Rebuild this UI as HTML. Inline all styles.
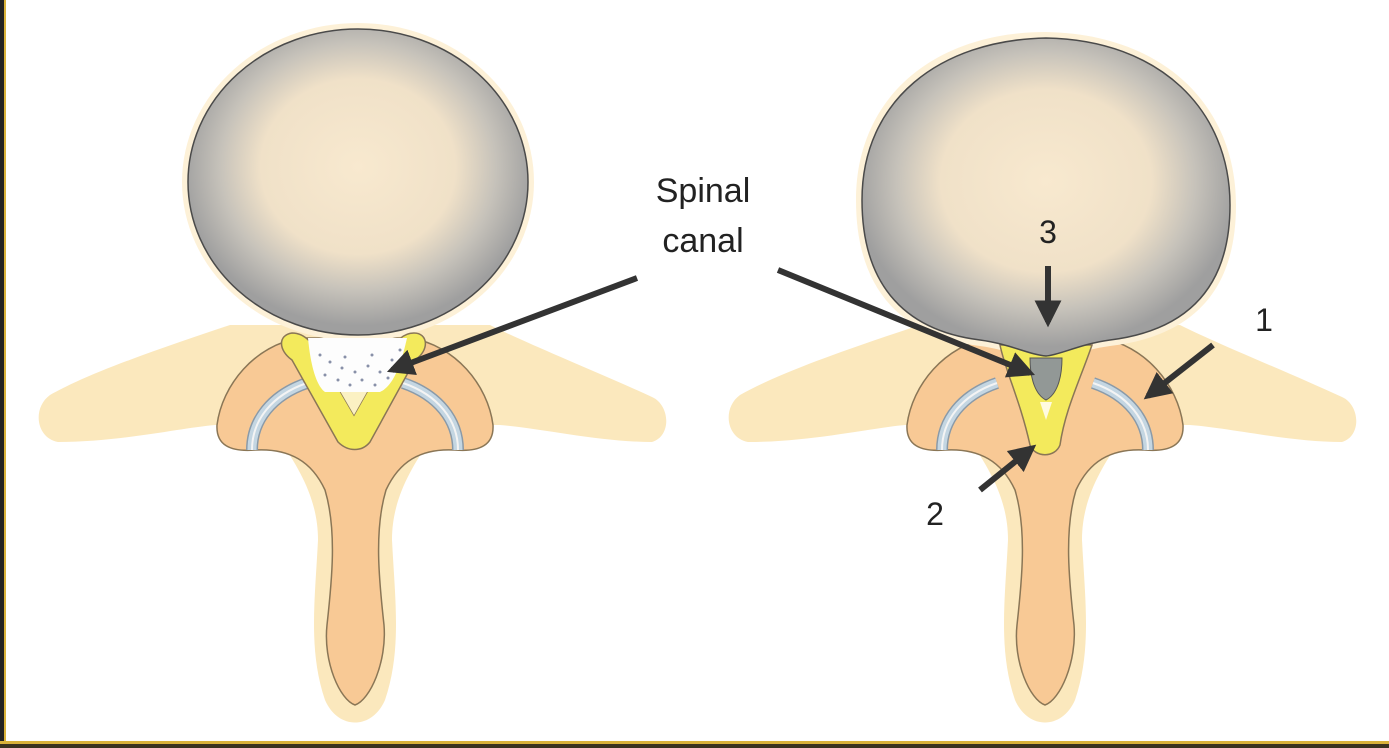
<!DOCTYPE html>
<html><head><meta charset="utf-8"><style>
html,body{margin:0;padding:0;background:#fff;}
svg{display:block;}
text{font-family:"Liberation Sans",sans-serif;fill:#222;}
</style></head><body>
<svg width="1389" height="748" viewBox="0 0 1389 748" xmlns="http://www.w3.org/2000/svg">
<defs>
<radialGradient id="dg" cx="0.5" cy="0.45" r="0.52">
<stop offset="0" stop-color="#f8e9cf"/><stop offset="0.55" stop-color="#f0e1c8"/>
<stop offset="0.78" stop-color="#c6c2ba"/><stop offset="1" stop-color="#9f9f9f"/>
</radialGradient>
<marker id="ah" viewBox="0 0 10 10" refX="8" refY="5" markerWidth="4.5" markerHeight="4.5" orient="auto">
<path d="M0,0 L10,5 L0,10 Z" fill="#333"/></marker>
<g id="vert">
<path d="M230,325 C170,345 90,372 50,395 C32,408 36,438 58,442 C120,442 180,428 215,425 L500,425 C540,428 600,442 652,442 C672,436 670,405 652,397 C600,373 530,345 490,325 Z" fill="#fbe8bd"/>
<path d="M280,440 C300,470 318,500 318,540 C315,600 308,650 325,700 C338,730 372,730 385,700 C402,650 395,600 392,540 C392,500 410,470 430,440 Z" fill="#fbe8bd"/>
<path d="M300,338 C255,345 222,385 217,425 C216,445 230,452 255,450 C290,448 312,462 325,490 C337,530 332,580 327,625 C323,662 340,700 355,705 C370,700 387,662 384,625 C379,580 374,530 386,490 C399,462 420,448 455,450 C480,452 494,445 493,425 C488,385 455,345 410,338 Z" fill="#f8c995" stroke="#8a7656" stroke-width="1.5"/>
<path d="M252,450 C252,420 272,395 307,383" fill="none" stroke="#8a9aa8" stroke-width="12"/>
<path d="M252,450 C252,420 272,395 307,383" fill="none" stroke="#c4d6e2" stroke-width="9"/>
<path d="M252,450 C252,420 272,395 307,383" fill="none" stroke="#f4f4f4" stroke-width="2"/>
<path d="M458,450 C458,420 438,395 403,383" fill="none" stroke="#8a9aa8" stroke-width="12"/>
<path d="M458,450 C458,420 438,395 403,383" fill="none" stroke="#c4d6e2" stroke-width="9"/>
<path d="M458,450 C458,420 438,395 403,383" fill="none" stroke="#f4f4f4" stroke-width="2"/>
</g>
</defs>

<rect x="0" y="0" width="4" height="748" fill="#222"/>
<rect x="4" y="0" width="2" height="748" fill="#d9b23a"/>
<rect x="0" y="741" width="1389" height="3" fill="#d9b23a"/>
<rect x="0" y="744" width="1389" height="4" fill="#3a3320"/>

<!-- LEFT -->
<use href="#vert"/>
<ellipse cx="358" cy="182" rx="176" ry="159" fill="#fdf1d8"/>
<path d="M292,333 C278,335 278,350 292,360 L338,442 C348,452 362,452 370,442 L415,360 C430,350 428,333 414,333 C400,333 395,345 385,360 L354,415 L322,360 C314,345 306,333 292,333 Z" fill="#f3ea5c" stroke="#8a7656" stroke-width="1.5"/>
<path d="M322,360 L354,415 L385,360 Z" fill="#fbf1c3"/>
<path d="M308,338 L407,338 C402,360 395,385 380,392 L325,392 C315,385 310,360 308,338 Z" fill="#fdfdfd"/>
<g fill="#8890a8">
<circle cx="320" cy="355" r="1.5"/><circle cx="330" cy="362" r="1.5"/><circle cx="342" cy="368" r="1.5"/><circle cx="355" cy="372" r="1.5"/><circle cx="368" cy="366" r="1.5"/><circle cx="380" cy="372" r="1.5"/><circle cx="392" cy="360" r="1.5"/><circle cx="325" cy="375" r="1.5"/><circle cx="338" cy="380" r="1.5"/><circle cx="350" cy="385" r="1.5"/><circle cx="362" cy="380" r="1.5"/><circle cx="375" cy="385" r="1.5"/><circle cx="388" cy="378" r="1.5"/><circle cx="345" cy="357" r="1.5"/><circle cx="372" cy="355" r="1.5"/><circle cx="400" cy="350" r="1.5"/>
</g>
<ellipse cx="358" cy="182" rx="170" ry="153" fill="url(#dg)" stroke="#4a4a4a" stroke-width="1.5"/>

<!-- RIGHT -->
<use href="#vert" transform="translate(690,0)"/>
<path d="M856,200 C856,96 936,32 1046,32 C1164,34 1236,106 1236,205 C1236,290 1194,336 1110,346 C1080,350 1060,361 1046,362 C1030,361 1010,350 980,346 C896,336 856,284 856,200 Z" fill="#fdf1d8"/>
<path d="M1000,345 C1005,370 1020,400 1030,445 C1035,458 1055,458 1060,445 C1065,410 1080,380 1092,345 Z" fill="#f3ea5c" stroke="#8a7656" stroke-width="1.5"/>
<path d="M1030,358 L1062,358 C1062,380 1056,395 1046,400 C1036,395 1030,380 1030,358 Z" fill="#929896" stroke="#555" stroke-width="1"/>
<path d="M1040,402 L1052,402 L1046,420 Z" fill="#fffbe0"/>
<path d="M862,200 C862,100 940,40 1046,38 C1160,40 1230,110 1230,205 C1230,285 1190,330 1110,340 C1080,344 1060,355 1046,356 C1030,355 1010,344 980,340 C900,330 862,280 862,200 Z" fill="url(#dg)" stroke="#4a4a4a" stroke-width="1.5"/>

<text x="703" y="202" font-size="34" text-anchor="middle">Spinal</text>
<text x="703" y="252" font-size="34" text-anchor="middle">canal</text>
<text x="1048" y="243" font-size="32" text-anchor="middle">3</text>
<text x="1264" y="331" font-size="32" text-anchor="middle">1</text>
<text x="935" y="525" font-size="32" text-anchor="middle">2</text>
<g stroke="#333" stroke-width="6" marker-end="url(#ah)" fill="none">
<line x1="637" y1="278" x2="392" y2="370"/>
<line x1="778" y1="270" x2="1030" y2="373"/>
<line x1="1048" y1="266" x2="1048" y2="322"/>
<line x1="1213" y1="345" x2="1148" y2="396"/>
<line x1="980" y1="490" x2="1032" y2="448"/>
</g>
</svg>
</body></html>
